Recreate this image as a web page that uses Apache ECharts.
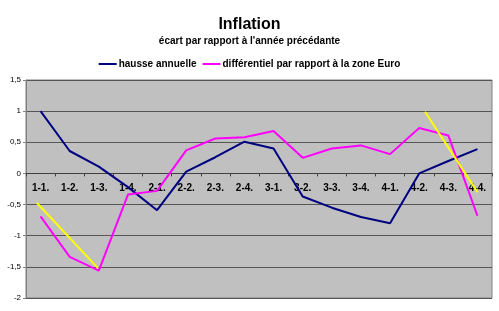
<!DOCTYPE html>
<html><head><meta charset="utf-8">
<script src="https://cdn.jsdelivr.net/npm/echarts@6/dist/echarts.min.js"></script>
<style>html,body{margin:0;padding:0;background:#fff}#c{width:499px;height:311px}</style>
</head><body><div id="c"></div>
<script>
const categories = ['1-1.','1-2.','1-3.','1-4.','2-1.','2-2.','2-3.','2-4.','3-1.','3-2.','3-3.','3-4.','4-1.','4-2.','4-3.','4-4.'];
const hausse = [1.0,0.36,0.11,-0.22,-0.59,0.03,0.26,0.51,0.40,-0.37,-0.55,-0.70,-0.80,0.0,0.2,0.39];
const differentiel = [-0.69,-1.34,-1.56,-0.34,-0.28,0.37,0.56,0.58,0.68,0.25,0.40,0.45,0.31,0.73,0.61,-0.68];
const yellowA = [[-0.13,-0.47],[1.97,-1.52]];
const yellowB = [[13.2,0.99],[15,-0.30]];
const yTicks = {min:-2, max:1.5, interval:0.5};

const chart = echarts.init(document.getElementById('c'));
const F = 'Liberation Sans, Arial, sans-serif';
const gridTop = 80, gridBottom = 13, H = 311;
const plotH = H - gridTop - gridBottom;
const zeroOffset = -plotH * (0 - yTicks.min) / (yTicks.max - yTicks.min);
chart.setOption({
  animation:false,
  backgroundColor:'#fff',
  title:{text:'Inflation',subtext:"écart par rapport à l'année précédante",left:'center',top:12,itemGap:3,
    textStyle:{fontFamily:F,fontSize:16,fontWeight:'bold',color:'#000'},
    subtextStyle:{fontFamily:F,fontSize:10,fontWeight:'bold',color:'#000'}},
  legend:{top:54,left:'center',icon:'rect',itemWidth:18,itemHeight:2,itemGap:6,
    textStyle:{fontFamily:F,fontSize:10,fontWeight:'bold',color:'#000',padding:[0,0,0,-3]},
    data:['hausse annuelle','différentiel par rapport à la zone Euro']},
  grid:{left:26,right:7,top:gridTop,bottom:gridBottom,show:true,backgroundColor:'#C0C0C0',borderColor:'#808080',borderWidth:1},
  xAxis:[{type:'category',data:categories,boundaryGap:true,position:'bottom',offset:zeroOffset,
    axisLine:{onZero:false,lineStyle:{color:'#404040',width:1}},
    axisTick:{show:true,length:3,lineStyle:{color:'#404040'}},
    axisLabel:{fontFamily:F,fontSize:10,fontWeight:'bold',color:'#000',margin:10,interval:0},
    splitLine:{show:false}, z:0},
   {type:'value',min:-0.5,max:15.5,show:false,axisLine:{onZero:false}}],
  yAxis:{type:'value',min:yTicks.min,max:yTicks.max,interval:yTicks.interval,
    axisLine:{show:true,onZero:false,lineStyle:{color:'#808080'}},
    axisTick:{show:true,length:3,lineStyle:{color:'#808080'}},
    axisLabel:{fontFamily:F,fontSize:8,color:'#000',margin:5,formatter:v=>String(v).replace('.',',')},
    splitLine:{show:true,lineStyle:{color:'#555',width:1}}},
  series:[
    {name:'hausse annuelle',type:'line',z:5,data:hausse,symbol:'none',lineStyle:{color:'#000080',width:2},itemStyle:{color:'#000080'}},
    {name:'différentiel par rapport à la zone Euro',type:'line',z:5,data:differentiel,symbol:'none',lineStyle:{color:'#FF00FF',width:2},itemStyle:{color:'#FF00FF'}},
    {name:'ya',type:'line',z:5,xAxisIndex:1,data:yellowA,symbol:'none',lineStyle:{color:'#FFFF00',width:2}},
    {name:'yb',type:'line',z:5,xAxisIndex:1,data:yellowB,symbol:'none',lineStyle:{color:'#FFFF00',width:2}}
  ]
});
</script></body></html>
